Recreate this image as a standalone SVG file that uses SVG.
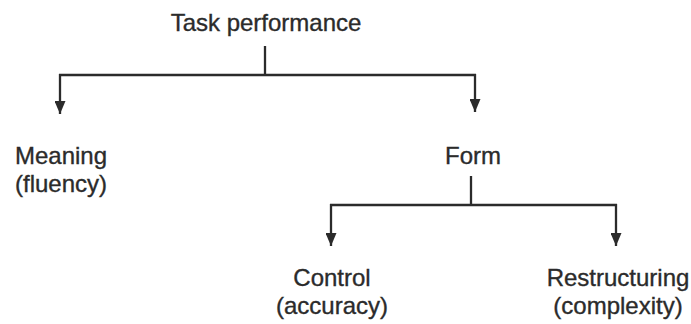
<svg xmlns="http://www.w3.org/2000/svg" width="691" height="324" viewBox="0 0 691 324">
  <style>
    .label { font-family: "Liberation Sans", Arial, sans-serif; font-size: 24px; fill: #2b2b2b; stroke: #2b2b2b; stroke-width: 0.35; text-anchor: middle; }
    .line { stroke: #2b2b2b; stroke-width: 2.3; fill: none; }
  </style>
  <defs>
    <marker id="arrow" viewBox="0 0 13 11" refX="13" refY="5.5" markerWidth="13" markerHeight="11" markerUnits="userSpaceOnUse" orient="auto">
      <path d="M0,0 L13,5.5 L0,11 Z" fill="#2b2b2b"/>
    </marker>
  </defs>
  <rect width="691" height="324" fill="#ffffff"/>

  <g id="connectors">
    <!-- Task performance split -->
    <path class="line" d="M265,46 V75"/>
    <path class="line" d="M59,75 H476"/>
    <path class="line" d="M60,74 V114" marker-end="url(#arrow)"/>
    <path class="line" d="M475,74 V112" marker-end="url(#arrow)"/>
    <!-- Form split -->
    <path class="line" d="M471,176 V205"/>
    <path class="line" d="M330,205 H617"/>
    <path class="line" d="M331,204 V246" marker-end="url(#arrow)"/>
    <path class="line" d="M616,204 V246" marker-end="url(#arrow)"/>
  </g>

  <g id="task-performance">
    <text class="label" x="266" y="31">Task performance</text>
  </g>
  <g id="meaning">
    <text class="label" x="61" y="164">Meaning</text>
    <text class="label" x="61" y="192">(fluency)</text>
  </g>
  <g id="form">
    <text class="label" x="473" y="164">Form</text>
  </g>
  <g id="control">
    <text class="label" x="332" y="286">Control</text>
    <text class="label" x="332" y="314">(accuracy)</text>
  </g>
  <g id="restructuring">
    <text class="label" x="618" y="286">Restructuring</text>
    <text class="label" x="618" y="314">(complexity)</text>
  </g>
</svg>
